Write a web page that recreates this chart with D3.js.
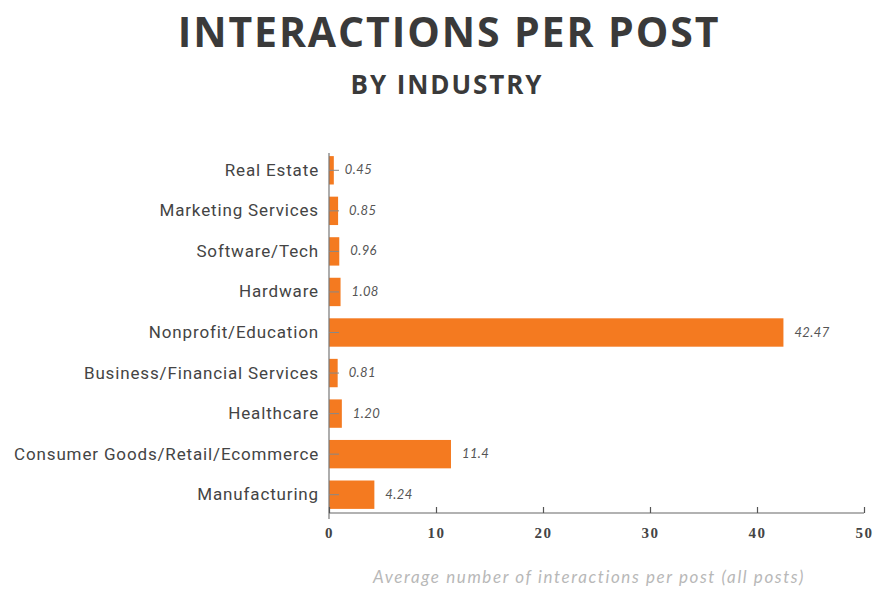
<!DOCTYPE html>
<html>
<head>
<meta charset="utf-8">
<script src="https://cdn.jsdelivr.net/npm/d3@7"></script>
<style>
  html, body { margin: 0; padding: 0; background: #fff; }
  svg { display: block; }
</style>
</head>
<body>
<svg id="chart" width="883" height="592"></svg>
<script>
// Interactions per post, by industry
const categories = [
  "Real Estate",
  "Marketing Services",
  "Software/Tech",
  "Hardware",
  "Nonprofit/Education",
  "Business/Financial Services",
  "Healthcare",
  "Consumer Goods/Retail/Ecommerce",
  "Manufacturing"
];
const values = [0.45, 0.85, 0.96, 1.08, 42.47, 0.81, 1.20, 11.4, 4.24];
const valueLabels = ["0.45", "0.85", "0.96", "1.08", "42.47", "0.81", "1.20", "11.4", "4.24"];
const xTicks = [0, 10, 20, 30, 40, 50];

const svg = d3.select("#chart");

const plotLeft = 329, plotRight = 864, bandTop = 148, bandBottom = 517, axisY = 513;

const x = d3.scaleLinear().domain([0, 50]).range([plotLeft, plotRight]);
const y = d3.scaleBand().domain(categories).range([bandTop, bandBottom]).paddingInner(0.3).paddingOuter(0.2);

// Titles
svg.append("text")
  .attr("x", 449).attr("y", 47)
  .attr("text-anchor", "middle")
  .attr("font-family", "Open Sans, sans-serif")
  .attr("font-weight", 700)
  .attr("font-size", 41)
  .attr("letter-spacing", 1.9)
  .attr("fill", "#3a3a3a")
  .text("INTERACTIONS PER POST");

svg.append("text")
  .attr("x", 447).attr("y", 94)
  .attr("text-anchor", "middle")
  .attr("font-family", "Open Sans, sans-serif")
  .attr("font-weight", 700)
  .attr("font-size", 26)
  .attr("letter-spacing", 1.9)
  .attr("fill", "#3a3a3a")
  .text("BY INDUSTRY");

// Bars
svg.append("g").selectAll("rect")
  .data(categories)
  .join("rect")
  .attr("x", x(0))
  .attr("y", d => y(d))
  .attr("width", (d, i) => x(values[i]) - x(0))
  .attr("height", y.bandwidth())
  .attr("fill", "#f47a20");

// Value labels
svg.append("g").selectAll("text")
  .data(categories)
  .join("text")
  .attr("x", (d, i) => x(values[i]) + 11)
  .attr("y", d => y(d) + y.bandwidth() / 2 + 4)
  .attr("font-family", "Lato, sans-serif")
  .attr("font-style", "italic")
  .attr("font-size", 13)
  .attr("letter-spacing", 0.4)
  .attr("fill", "#555")
  .text((d, i) => valueLabels[i]);

// Category axis
const yAxis = svg.append("g")
  .attr("transform", `translate(${plotLeft},0)`)
  .call(d3.axisLeft(y).tickSize(-10).tickPadding(11));
yAxis.select(".domain").attr("stroke", "#777").attr("stroke-width", 1.2)
  .attr("d", `M0,153V519`);
yAxis.selectAll(".tick line").attr("stroke", "#888");
yAxis.selectAll(".tick text")
  .attr("font-family", "Roboto, sans-serif")
  .attr("font-size", 17)
  .attr("letter-spacing", 0.85)
  .attr("fill", "#444")
  .attr("x", -10);

// Value axis
const xAxis = svg.append("g")
  .attr("transform", `translate(0,${axisY})`)
  .call(d3.axisBottom(x).tickValues(xTicks).tickSize(-6).tickPadding(14).tickFormat(d3.format("d")));
xAxis.select(".domain").attr("stroke", "#666").attr("stroke-width", 1.2)
  .attr("d", `M${plotLeft},0H${plotRight}`);
xAxis.selectAll(".tick line").attr("stroke", "#555").attr("stroke-width", 1.2);
xAxis.selectAll(".tick text")
  .attr("font-family", "Liberation Serif, serif")
  .attr("font-weight", 700)
  .attr("font-size", 15)
  .attr("letter-spacing", 1.5)
  .attr("fill", "#444");

// Value axis title
svg.append("text")
  .attr("x", 589).attr("y", 583)
  .attr("text-anchor", "middle")
  .attr("font-family", "Lato, sans-serif")
  .attr("font-style", "italic")
  .attr("font-size", 17)
  .attr("letter-spacing", 1.6)
  .attr("fill", "#b8b8b8")
  .text("Average number of interactions per post (all posts)");
</script>
</body>
</html>
